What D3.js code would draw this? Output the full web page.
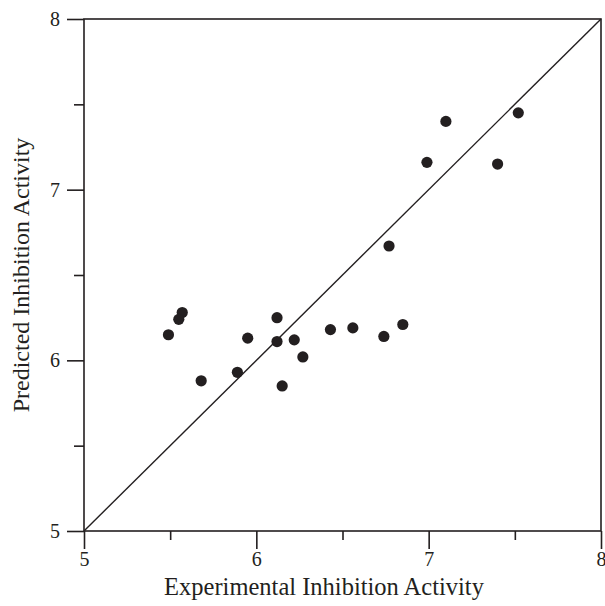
<!DOCTYPE html>
<html>
<head>
<meta charset="utf-8">
<script src="https://cdn.jsdelivr.net/npm/d3@7"></script>
<style>
  body { margin: 0; background: #fff; }
  svg text { font-family: "Liberation Serif", "DejaVu Serif", serif; fill: #231f20; }
</style>
</head>
<body>
<div id="chart"></div>
<script>
// experimental vs predicted inhibition activity
const experimental = [7.10, 7.52, 6.99, 7.40, 6.77, 6.56, 6.74, 6.85, 5.57, 5.55,
                      5.49, 6.12, 5.95, 6.12, 6.22, 6.27, 5.89, 5.68, 6.15, 6.43];
const predicted    = [7.40, 7.45, 7.16, 7.15, 6.67, 6.19, 6.14, 6.21, 6.28, 6.24,
                      6.15, 6.25, 6.13, 6.11, 6.12, 6.02, 5.93, 5.88, 5.85, 6.18];
const majorTicks = [5, 6, 7, 8];
const minorTicks = [5.5, 6.5, 7.5];
const xTitle = 'Experimental Inhibition Activity';
const yTitle = 'Predicted Inhibition Activity';

const W = 605, H = 606;
const margin = { top: 19, right: 4, bottom: 75, left: 84 };
const width = W - margin.left - margin.right;
const height = H - margin.top - margin.bottom;
const ink = '#231f20';

const svg = d3.select('#chart').append('svg')
  .attr('width', W)
  .attr('height', H);

const g = svg.append('g')
  .attr('transform', `translate(${margin.left},${margin.top})`);

const x = d3.scaleLinear().domain([5, 8]).range([0, width]);
const y = d3.scaleLinear().domain([5, 8]).range([height, 0]);

// box
g.append('rect')
  .attr('width', width)
  .attr('height', height)
  .attr('fill', 'none')
  .attr('stroke', ink)
  .attr('stroke-width', 1.6);

// axes: major ticks with labels, minor ticks shorter
g.append('g')
  .attr('transform', `translate(0,${height})`)
  .call(d3.axisBottom(x).tickValues(majorTicks).tickSize(18).tickPadding(3).tickFormat(d3.format('d')))
  .call(a => a.select('.domain').remove())
  .call(a => a.selectAll('line').attr('stroke', ink).attr('stroke-width', 1.6))
  .call(a => a.selectAll('text').attr('font-size', 20).attr('font-family', '"Liberation Serif", serif').attr('fill', ink));

g.append('g')
  .attr('transform', `translate(0,${height})`)
  .call(d3.axisBottom(x).tickValues(minorTicks).tickSize(9).tickFormat(''))
  .call(a => a.select('.domain').remove())
  .call(a => a.selectAll('line').attr('stroke', ink).attr('stroke-width', 1.6));

g.append('g')
  .call(d3.axisLeft(y).tickValues(majorTicks).tickSize(17).tickPadding(7).tickFormat(d3.format('d')))
  .call(a => a.select('.domain').remove())
  .call(a => a.selectAll('line').attr('stroke', ink).attr('stroke-width', 1.6))
  .call(a => a.selectAll('text').attr('font-size', 20).attr('font-family', '"Liberation Serif", serif').attr('fill', ink));

g.append('g')
  .call(d3.axisLeft(y).tickValues(minorTicks).tickSize(10).tickFormat(''))
  .call(a => a.select('.domain').remove())
  .call(a => a.selectAll('line').attr('stroke', ink).attr('stroke-width', 1.6));

// y = x reference line
g.append('line')
  .attr('x1', x(5)).attr('y1', y(5))
  .attr('x2', x(8)).attr('y2', y(8))
  .attr('stroke', ink)
  .attr('stroke-width', 1.4);

// points
g.selectAll('circle.pt')
  .data(experimental.map((e, i) => [e, predicted[i]]))
  .join('circle')
  .attr('class', 'pt')
  .attr('cx', d => x(d[0]))
  .attr('cy', d => y(d[1]))
  .attr('r', 5.6)
  .attr('fill', ink);

// titles
svg.append('text')
  .attr('x', 324)
  .attr('y', 595)
  .attr('text-anchor', 'middle')
  .attr('font-size', 24.5)
  .text(xTitle);

svg.append('text')
  .attr('transform', `translate(29,275) rotate(-90)`)
  .attr('text-anchor', 'middle')
  .attr('font-size', 24)
  .text(yTitle);
</script>
</body>
</html>
